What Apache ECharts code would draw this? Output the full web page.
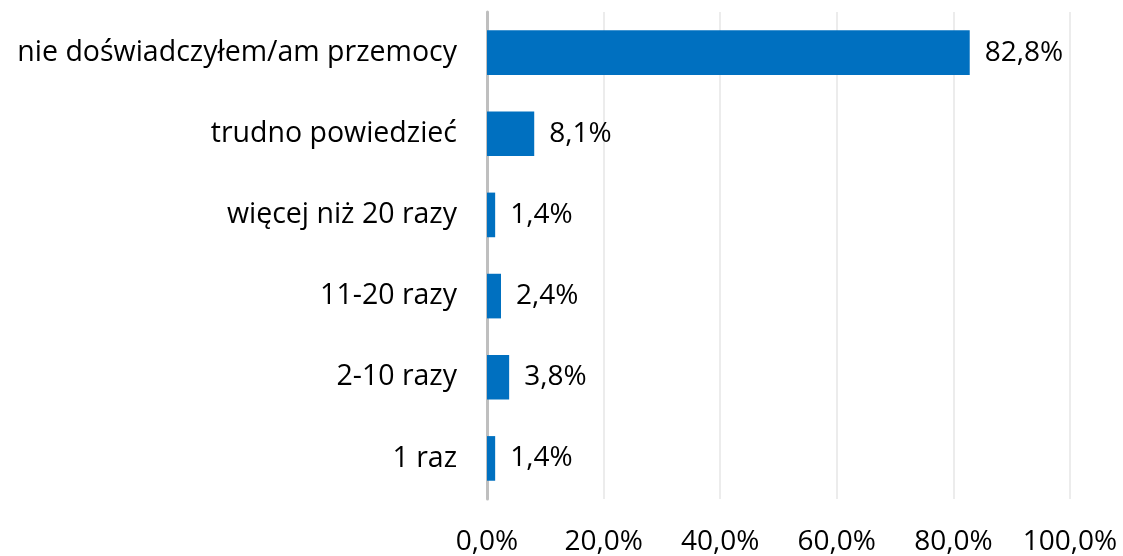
<!DOCTYPE html>
<html>
<head>
<meta charset="utf-8">
<script src="https://cdn.jsdelivr.net/npm/echarts@6/dist/echarts.min.js"></script>
<style>
  html, body { margin: 0; padding: 0; background: #fff; }
  #chart { width: 1123px; height: 556px; }
</style>
</head>
<body>
<div id="chart"></div>
<script>
const categories = ['1 raz', '2-10 razy', '11-20 razy', 'więcej niż 20 razy', 'trudno powiedzieć', 'nie doświadczyłem/am przemocy']
const values = [1.4, 3.8, 2.4, 1.4, 8.1, 82.8]
const xTicks = [0, 20, 40, 60, 80, 100]

const fmt = v => v.toFixed(1).replace('.', ',') + '%'
const font = '"Open Sans", "Noto Sans", sans-serif'

const chart = echarts.init(document.getElementById('chart'))
chart.setOption({
  animation: false,
  backgroundColor: '#ffffff',
  grid: { left: 487, right: 53, top: 12, bottom: 57, containLabel: false, outerBoundsMode: 'none' },
  xAxis: {
    type: 'value',
    min: xTicks[0],
    max: xTicks[xTicks.length - 1],
    interval: 20,
    axisLine: { show: false },
    axisTick: { show: false },
    splitLine: { show: true, lineStyle: { color: '#e6e6e6', width: 1.5 } },
    axisLabel: {
      margin: 29,
      color: '#000',
      fontFamily: font,
      fontSize: 28,
      formatter: v => fmt(v)
    }
  },
  yAxis: {
    type: 'category',
    data: categories,
    axisLine: { show: true, lineStyle: { color: '#bfbfbf', width: 3 } },
    axisTick: { show: false },
    axisLabel: {
      margin: 30,
      color: '#000',
      fontFamily: font,
      fontSize: 28.5,
      padding: [8, 0, 0, 0]
    }
  },
  series: [{
    type: 'bar',
    data: values,
    barWidth: '55%',
    itemStyle: { color: '#0070C0' },
    label: {
      show: true,
      position: 'right',
      distance: 15,
      color: '#000',
      fontFamily: font,
      fontSize: 28,
      padding: [8, 0, 0, 0],
      formatter: p => fmt(p.value)
    }
  }]
})
</script>
</body>
</html>
